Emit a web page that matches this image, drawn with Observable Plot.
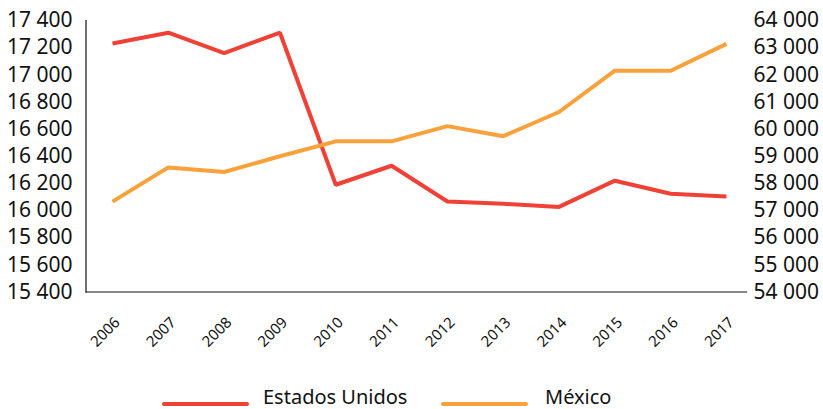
<!DOCTYPE html>
<html>
<head>
<meta charset="utf-8">
<script src="https://cdn.jsdelivr.net/npm/d3@7"></script>
<script src="https://cdn.jsdelivr.net/npm/@observablehq/plot@0.6"></script>
<style>
  html, body { margin: 0; padding: 0; background: #fff; }
  #wrap { position: relative; width: 823px; height: 409px; font-family: "Noto Sans", sans-serif; color: #111; }
  #legend { position: absolute; left: 0; top: 380px; width: 823px; height: 29px; }
  .sw { position: absolute; height: 4px; border-radius: 2px; top: 22px; }
  .lt { position: absolute; top: 4px; font-size: 20px; line-height: 26px; }
</style>
</head>
<body>
<div id="wrap">
  <div id="chart"></div>
  <div id="legend"></div>
</div>
<script>
const years = [2006, 2007, 2008, 2009, 2010, 2011, 2012, 2013, 2014, 2015, 2016, 2017];
const estadosUnidos = [17230, 17310, 17160, 17310, 16190, 16330, 16067, 16050, 16027, 16220, 16124, 16104];
const mexico = [57330, 58590, 58420, 59000, 59550, 59550, 60110, 59740, 60630, 62150, 62150, 63140];
const leftTicks = [15400, 15600, 15800, 16000, 16200, 16400, 16600, 16800, 17000, 17200, 17400];
const rightTicks = [54000, 55000, 56000, 57000, 58000, 59000, 60000, 61000, 62000, 63000, 64000];
const seriesNames = ["Estados Unidos", "México"];
const seriesColors = ["#ef4136", "#f9a13a"];

const fmt = d3.formatLocale({decimal: ",", thousands: " ", grouping: [3], currency: ["", ""]}).format(",");

// map right-axis values onto the left scale domain
const L0 = 15400, L1 = 17400, R0 = 54000, R1 = 64000;
const toLeft = v => L0 + (v - R0) * (L1 - L0) / (R1 - R0);
const toRight = v => R0 + (v - L0) * (R1 - R0) / (L1 - L0);

const usData = years.map((y, i) => ({year: y, value: estadosUnidos[i]}));
const mxData = years.map((y, i) => ({year: y, value: toLeft(mexico[i])}));

const W = 823, H = 350;
const plot = Plot.plot({
  width: W,
  height: H,
  marginLeft: 85.5,
  marginRight: 77,
  marginTop: 20,
  marginBottom: 58.5,
  insetLeft: 26.5,
  insetRight: 20,
  style: {fontFamily: "Noto Sans, sans-serif", fontSize: "21px", color: "#111", background: "transparent"},
  x: {type: "linear", domain: [2006, 2017]},
  y: {domain: [L0, L1]},
  marks: [
    Plot.axisY({anchor: "left", ticks: leftTicks, tickFormat: fmt, tickSize: 0, tickPadding: 13.5, label: null, fontSize: 21}),
    Plot.axisY({anchor: "right", ticks: rightTicks.map(toLeft), tickFormat: d => fmt(Math.round(toRight(d))), tickSize: 0, tickPadding: 7, label: null, fontSize: 21}),
    Plot.axisX({ticks: years, tickFormat: d => String(d), tickSize: 0, tickRotate: -45, tickPadding: 19, dx: 5, dy: 9, label: null, fontSize: 15}),
    Plot.frame({anchor: "left", stroke: "#111", strokeWidth: 1.2}),
    Plot.frame({anchor: "bottom", stroke: "#111", strokeWidth: 1.2}),
    Plot.line(usData, {x: "year", y: "value", stroke: seriesColors[0], strokeWidth: 4, strokeLinejoin: "miter", strokeLinecap: "butt"}),
    Plot.line(mxData, {x: "year", y: "value", stroke: seriesColors[1], strokeWidth: 4, strokeLinejoin: "miter", strokeLinecap: "butt"})
  ]
});
document.getElementById("chart").appendChild(plot);

// legend
const legend = document.getElementById("legend");
const legendPos = [{sw: 162, tx: 263}, {sw: 441, tx: 545}];
seriesNames.forEach((name, i) => {
  const sw = document.createElement("div");
  sw.className = "sw";
  sw.style.left = legendPos[i].sw + "px";
  sw.style.width = "87px";
  sw.style.background = seriesColors[i];
  legend.appendChild(sw);
  const t = document.createElement("div");
  t.className = "lt";
  t.style.left = legendPos[i].tx + "px";
  t.textContent = name;
  legend.appendChild(t);
});
</script>
</body>
</html>
